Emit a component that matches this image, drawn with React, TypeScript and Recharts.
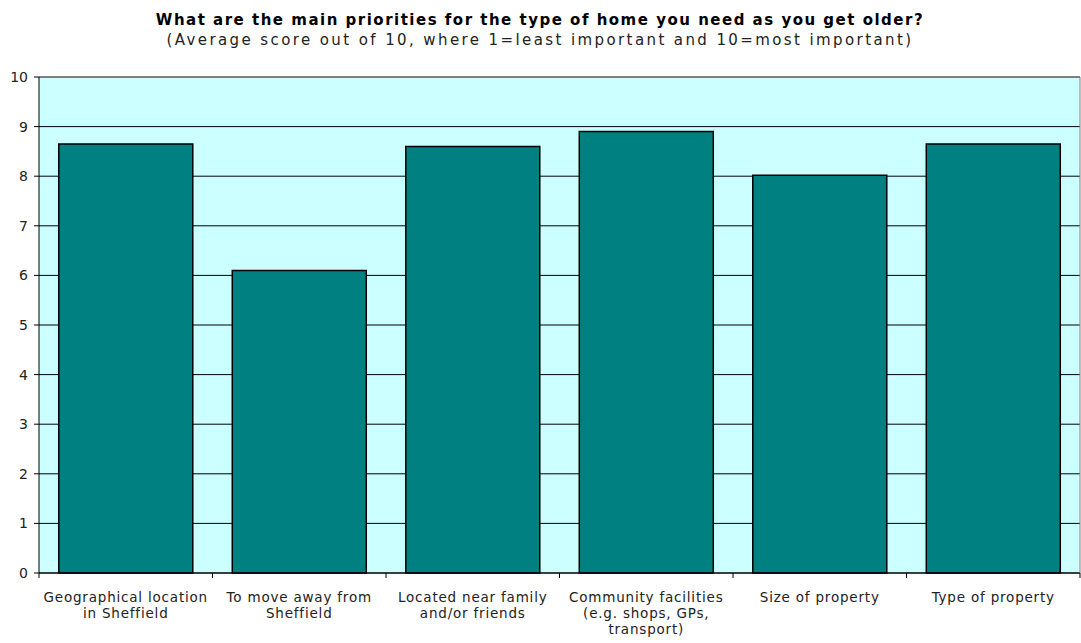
import { BarChart, Bar, XAxis, YAxis, CartesianGrid, ReferenceLine } from 'recharts'

const categories = [
  'Geographical location\nin Sheffield',
  'To move away from\nSheffield',
  'Located near family\nand/or friends',
  'Community facilities\n(e.g. shops, GPs,\ntransport)',
  'Size of property',
  'Type of property',
]
const scores = [8.65, 6.1, 8.6, 8.9, 8.02, 8.65]
const yTicks = [0, 1, 2, 3, 4, 5, 6, 7, 8, 9, 10]

const title = 'What are the main priorities for the type of home you need as you get older?'
const subtitle = '(Average score out of 10, where 1=least important and 10=most important)'

const data = categories.map((name, i) => ({ name, score: scores[i] }))

const font = '"DejaVu Sans", sans-serif'

function CategoryTick(props: any) {
  const { x, y, payload, index } = props
  const half = payload.offset ?? 86.75
  const lines = String(payload.value).split('\n')
  return (
    <g>
      {index === 0 && <line x1={x - half} x2={x - half} y1={y - 8} y2={y - 3} stroke="#000" />}
      <line x1={x + half} x2={x + half} y1={y - 8} y2={y - 3} stroke="#000" />
      <text
        x={x}
        y={y + 21}
        textAnchor="middle"
        fontSize={13.5}
        letterSpacing={0.8}
        fill="#222"
        fontFamily={font}
      >
        {lines.map((l, i) => (
          <tspan key={i} x={x} dy={i === 0 ? 0 : 16}>
            {l}
          </tspan>
        ))}
      </text>
    </g>
  )
}

export default function App() {
  return (
    <div style={{ position: 'absolute', left: 0, top: 0, width: 1081, height: 643, background: '#fff' }}>
      <svg width={1081} height={60} style={{ position: 'absolute', left: 0, top: 0 }}>
        <text x={540} y={25} textAnchor="middle" fontSize={15} fontWeight="bold" letterSpacing={1.5} fontFamily={font} fill="#000">
          {title}
        </text>
        <text x={540} y={45} textAnchor="middle" fontSize={15} letterSpacing={2.4} fontFamily={font} fill="#222">
          {subtitle}
        </text>
      </svg>
      <BarChart
        width={1081}
        height={643}
        data={data}
        margin={{ top: 77, right: 0, bottom: 0, left: 0 }}
        barCategoryGap="11.4%"
      >
        <CartesianGrid vertical={false} stroke="#000" fill="#ccffff" fillOpacity={1} />
        <XAxis
          dataKey="name"
          height={70}
          interval={0}
          axisLine={{ stroke: '#000' }}
          tickLine={false}
          tick={<CategoryTick />}
        />
        <YAxis
          width={39}
          domain={[0, 10]}
          ticks={yTicks}
          interval={0}
          tickSize={5}
          tickMargin={6}
          axisLine={{ stroke: '#000' }}
          tickLine={{ stroke: '#000' }}
          tick={{ fontSize: 14, fill: '#222', fontFamily: font }}
        />
        <YAxis yAxisId="edge" orientation="right" width={1} tick={false} tickLine={false} axisLine={{ stroke: '#808080' }} />
        <ReferenceLine y={10} stroke="#808080" />
        <Bar dataKey="score" fill="#008080" stroke="#000" strokeWidth={1.5} isAnimationActive={false} />
      </BarChart>
    </div>
  )
}
